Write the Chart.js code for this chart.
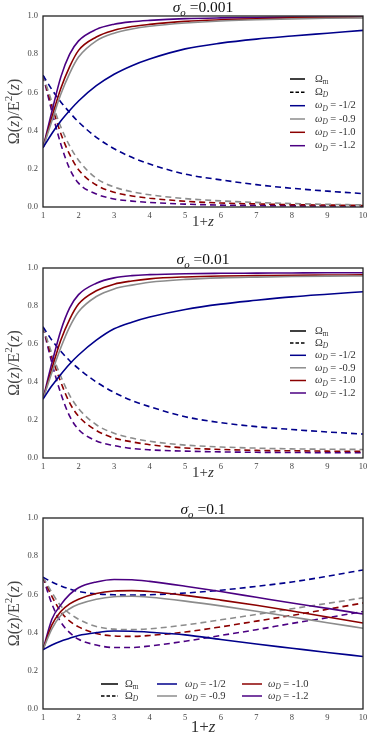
<!DOCTYPE html>
<html>
<head>
<meta charset="utf-8">
<script src="https://cdn.jsdelivr.net/npm/chart.js@4.4.0/dist/chart.umd.min.js"></script>
<style>
html, body { margin: 0; padding: 0; background: #fff; }
.panel { position: absolute; left: 0; width: 378px; }
</style>
</head>
<body>
<div class="panel" style="top:0;height:234px"><canvas id="c1"></canvas></div>
<div class="panel" style="top:250px;height:234px"><canvas id="c2"></canvas></div>
<div class="panel" style="top:500px;height:239px"><canvas id="c3"></canvas></div>
<script>
// 1+z sample points
const zGrid = [1, 1.25, 1.5, 1.75, 2, 2.5, 3, 3.5, 4, 5, 6, 7, 8, 9, 10];
const sigmaLabels = ['0.001', '0.01', '0.1'];
const wLabels = ['-1/2', '-0.9', '-1.0', '-1.2'];

// sigma_o = 0.001 : Omega_m (solid) and Omega_D (dashed)
const m1_w05 = [0.31, 0.385, 0.45, 0.505, 0.555, 0.635, 0.695, 0.74, 0.775, 0.828, 0.858, 0.879, 0.895, 0.91, 0.925];
const m1_w09 = [0.31, 0.45, 0.59, 0.70, 0.785, 0.87, 0.91, 0.932, 0.946, 0.963, 0.974, 0.98, 0.985, 0.988, 0.99];
const m1_w10 = [0.31, 0.47, 0.62, 0.735, 0.82, 0.89, 0.925, 0.945, 0.956, 0.972, 0.98, 0.985, 0.99, 0.992, 0.993];
const m1_w12 = [0.31, 0.50, 0.68, 0.80, 0.87, 0.93, 0.957, 0.97, 0.977, 0.986, 0.99, 0.992, 0.994, 0.995, 0.995];
const d1_w05 = [0.69, 0.615, 0.55, 0.495, 0.445, 0.365, 0.305, 0.26, 0.225, 0.172, 0.142, 0.117, 0.098, 0.083, 0.07];
const d1_w09 = [0.69, 0.55, 0.42, 0.32, 0.245, 0.15, 0.105, 0.08, 0.064, 0.044, 0.032, 0.024, 0.018, 0.014, 0.011];
const d1_w10 = [0.69, 0.53, 0.385, 0.275, 0.195, 0.115, 0.077, 0.058, 0.046, 0.03, 0.021, 0.016, 0.012, 0.01, 0.008];
const d1_w12 = [0.69, 0.50, 0.33, 0.20, 0.125, 0.068, 0.042, 0.031, 0.024, 0.015, 0.01, 0.008, 0.006, 0.005, 0.005];

// sigma_o = 0.01
const m2_w05 = [0.31, 0.38, 0.44, 0.495, 0.542, 0.62, 0.68, 0.715, 0.742, 0.782, 0.81, 0.83, 0.848, 0.862, 0.875];
const m2_w09 = [0.31, 0.45, 0.58, 0.69, 0.77, 0.85, 0.89, 0.91, 0.925, 0.94, 0.948, 0.952, 0.955, 0.957, 0.958];
const m2_w10 = [0.31, 0.47, 0.62, 0.73, 0.81, 0.88, 0.915, 0.932, 0.943, 0.953, 0.958, 0.96, 0.962, 0.963, 0.964];
const m2_w12 = [0.31, 0.50, 0.67, 0.79, 0.86, 0.92, 0.948, 0.96, 0.965, 0.97, 0.972, 0.973, 0.974, 0.975, 0.975];
const d2_w05 = [0.69, 0.62, 0.562, 0.512, 0.47, 0.40, 0.345, 0.302, 0.27, 0.217, 0.186, 0.165, 0.15, 0.137, 0.126];
const d2_w09 = [0.69, 0.55, 0.43, 0.33, 0.26, 0.175, 0.13, 0.105, 0.088, 0.068, 0.058, 0.052, 0.048, 0.046, 0.045];
const d2_w10 = [0.69, 0.53, 0.40, 0.29, 0.22, 0.145, 0.105, 0.085, 0.07, 0.053, 0.045, 0.04, 0.038, 0.036, 0.035];
const d2_w12 = [0.69, 0.50, 0.34, 0.22, 0.15, 0.09, 0.065, 0.05, 0.043, 0.036, 0.032, 0.03, 0.029, 0.028, 0.028];

// sigma_o = 0.1
const m3_w05 = [0.31, 0.335, 0.355, 0.37, 0.385, 0.40, 0.408, 0.407, 0.402, 0.388, 0.364, 0.34, 0.318, 0.296, 0.275];
const m3_w09 = [0.31, 0.42, 0.49, 0.525, 0.548, 0.575, 0.588, 0.59, 0.585, 0.565, 0.54, 0.512, 0.482, 0.452, 0.423];
const m3_w10 = [0.31, 0.44, 0.51, 0.55, 0.575, 0.605, 0.618, 0.62, 0.615, 0.595, 0.57, 0.543, 0.513, 0.482, 0.45];
const m3_w12 = [0.31, 0.47, 0.545, 0.60, 0.635, 0.665, 0.678, 0.677, 0.668, 0.643, 0.615, 0.585, 0.555, 0.527, 0.497];
const d3_w05 = [0.69, 0.665, 0.645, 0.628, 0.615, 0.603, 0.598, 0.597, 0.598, 0.607, 0.622, 0.642, 0.665, 0.695, 0.728];
const d3_w09 = [0.69, 0.61, 0.54, 0.50, 0.47, 0.432, 0.418, 0.416, 0.42, 0.44, 0.467, 0.495, 0.525, 0.553, 0.582];
const d3_w10 = [0.69, 0.59, 0.51, 0.46, 0.43, 0.395, 0.382, 0.38, 0.385, 0.403, 0.43, 0.46, 0.49, 0.522, 0.555];
const d3_w12 = [0.69, 0.55, 0.455, 0.40, 0.365, 0.335, 0.322, 0.322, 0.33, 0.355, 0.385, 0.415, 0.448, 0.478, 0.51];

const colors = ['#00008b', '#8c8c8c', '#8b0000', '#4b0082'];
const serif = '"Liberation Serif", "DejaVu Serif", serif';
const textCol = '#333';

function pts(ys) {
    return ys.map((y, i) => ({ x: zGrid[i], y: y }));
}

function makeSets(mList, dList) {
    const sets = [];
    mList.forEach((ys, i) => sets.push({ data: pts(ys), borderColor: colors[i], borderDash: [] }));
    dList.forEach((ys, i) => sets.push({ data: pts(ys), borderColor: colors[i], borderDash: [6, 4] }));
    return sets;
}

// draw a run of text pieces: [text, flags] with i = italic, s = subscript, p = superscript
function drawRich(ctx, parts, x, y, size, center) {
    let w = 0;
    const runs = parts.map(([t, f = '']) => {
        const small = f.includes('s') || f.includes('p');
        const font = (f.includes('i') ? 'italic ' : '') + (small ? size * 0.7 : size) + 'px ' + serif;
        ctx.font = font;
        const pw = ctx.measureText(t).width;
        w += pw;
        let dy = 0;
        if (f.includes('s')) dy = size * 0.3;
        if (f.includes('p')) dy = -size * 0.38;
        return { t, font, pw, dy };
    });
    let cx = center ? x - w / 2 : x;
    ctx.textAlign = 'left';
    ctx.textBaseline = 'middle';
    runs.forEach(r => {
        ctx.font = r.font;
        ctx.fillText(r.t, cx, y + r.dy);
        cx += r.pw;
    });
}

function legendItems() {
    const items = [
        { color: '#000', dash: [], parts: [['Ω'], ['m', 's']] },
        { color: '#000', dash: [3.5, 2], parts: [['Ω'], ['D', 'si']] },
    ];
    wLabels.forEach((w, i) => items.push({ color: colors[i], dash: [], parts: [['ω', 'i'], ['D', 'si'], [' = ' + w]] }));
    return items;
}

const decor = {
    id: 'decor',
    afterDraw(chart, args, opts) {
        const { ctx, chartArea: a } = chart;
        const mid = (a.left + a.right) / 2;
        ctx.save();
        ctx.strokeStyle = '#222';
        ctx.lineWidth = 1.3;
        ctx.setLineDash([]);
        ctx.strokeRect(a.left, a.top, a.right - a.left, a.bottom - a.top);

        ctx.fillStyle = '#111';
        drawRich(ctx, [['σ', 'i'], ['o', 'si'], [' =' + opts.sigma]], mid, a.top - opts.titleGap, 15.5, true);
        ctx.fillStyle = '#333';
        drawRich(ctx, [['1+'], ['z', 'i']], mid, a.bottom + opts.xLabelGap, opts.xLabelSize, true);

        ctx.save();
        ctx.translate(15, (a.top + a.bottom) / 2);
        ctx.rotate(-Math.PI / 2);
        ctx.fillStyle = '#444';
        drawRich(ctx, [['Ω('], ['z', 'i'], [')/E'], ['2', 'p'], ['('], ['z', 'i'], [')']], 0, 0, 16, true);
        ctx.restore();

        // legend
        const items = legendItems();
        items.forEach((it, i) => {
            const slot = opts.legend[i];
            const y = a.top + slot[3];
            ctx.strokeStyle = it.color;
            ctx.lineWidth = 1.5;
            ctx.setLineDash(it.dash);
            ctx.beginPath();
            ctx.moveTo(slot[0], y);
            ctx.lineTo(slot[1], y);
            ctx.stroke();
            ctx.fillStyle = textCol;
            drawRich(ctx, it.parts, slot[2], y, 10.5, false);
        });
        ctx.restore();
    }
};

function makeChart(id, sets, padTop, axisH, sigma, xLabelGap, xLabelSize, legend) {
    return new Chart(document.getElementById(id), {
        type: 'line',
        data: { datasets: sets },
        options: {
            responsive: true,
            maintainAspectRatio: false,
            animation: false,
            layout: { padding: { top: padTop, right: 15, left: 0, bottom: 0 } },
            elements: {
                point: { radius: 0 },
                line: { borderWidth: 1.6, cubicInterpolationMode: 'monotone', fill: false },
            },
            plugins: {
                legend: { display: false },
                tooltip: { enabled: false },
                decor: { sigma: sigma, titleGap: 8, xLabelGap: xLabelGap, xLabelSize: xLabelSize, legend: legend },
            },
            scales: {
                x: {
                    type: 'linear',
                    min: 1,
                    max: 10,
                    ticks: { stepSize: 1, padding: 4, color: '#444', font: { family: serif, size: 8.5 }, maxRotation: 0, autoSkip: false },
                    grid: { display: false, drawTicks: false, tickLength: 0 },
                    border: { display: false },
                    afterFit(s) { s.height = axisH; },
                },
                y: {
                    min: 0,
                    max: 1,
                    ticks: { stepSize: 0.2, padding: 5, color: '#444', font: { family: serif, size: 8.5 }, callback: v => v.toFixed(1) },
                    grid: { display: false, drawTicks: false, tickLength: 0 },
                    border: { display: false },
                    afterFit(s) { s.width = 43; },
                },
            },
        },
        plugins: [decor],
    });
}

// legend slots: [line x1, line x2, text x, y offset from plot top]
const sideLegend1 = [63, 76.3, 89.7, 103, 116.3, 129.7].map(dy => [290, 305, 315, dy]);
const sideLegend2 = [63, 75, 87.3, 99.8, 112.5, 125].map(dy => [290, 306, 315, dy]);
const bottomLegend = [
    [101, 118, 125, 166], [101, 118, 125, 178],
    [157, 177, 185, 166], [157, 177, 185, 178],
    [242, 262, 268, 166], [242, 262, 268, 178],
];

makeChart('c1', makeSets([m1_w05, m1_w09, m1_w10, m1_w12], [d1_w05, d1_w09, d1_w10, d1_w12]),
    16, 27, sigmaLabels[0], 15, 15, sideLegend1);
makeChart('c2', makeSets([m2_w05, m2_w09, m2_w10, m2_w12], [d2_w05, d2_w09, d2_w10, d2_w12]),
    18, 26, sigmaLabels[1], 15, 15, sideLegend2);
makeChart('c3', makeSets([m3_w05, m3_w09, m3_w10, m3_w12], [d3_w05, d3_w09, d3_w10, d3_w12]),
    18, 30, sigmaLabels[2], 19, 17, bottomLegend);
</script>
</body>
</html>
